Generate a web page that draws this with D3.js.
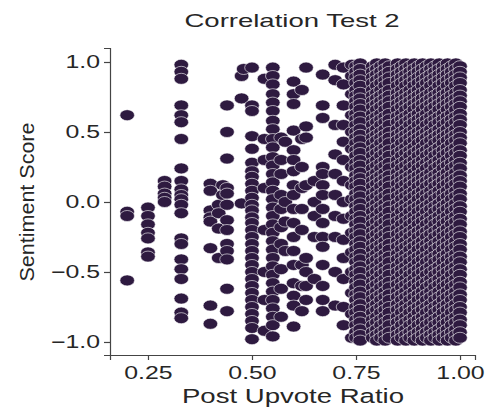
<!DOCTYPE html>
<meta charset="utf-8">
<script src="https://d3js.org/d3.v7.min.js"></script>
<style>
body { margin: 0; background: #fff; }
text { font-family: "Liberation Sans", Arial, sans-serif; fill: #262626; }
</style>
<body>
<div id="chart"></div>
<script>
// column y values
const denseA = [0.99,0.95,0.91,0.87,0.83,0.78,0.74,0.7,0.66,0.61,0.57,0.52,0.48,0.44,0.39,0.35,0.3,0.26,0.21,0.17,0.13,0.08,0.04,-0.01,-0.05,-0.1,-0.14,-0.19,-0.23,-0.28,-0.32,-0.37,-0.41,-0.46,-0.5,-0.55,-0.59,-0.64,-0.68,-0.73,-0.77,-0.82,-0.86,-0.91,-0.95,-0.99];
const denseB = [0.97,0.93,0.89,0.85,0.8,0.76,0.72,0.68,0.63,0.59,0.55,0.5,0.46,0.42,0.37,0.33,0.28,0.24,0.19,0.15,0.11,0.06,0.02,-0.03,-0.07,-0.12,-0.16,-0.21,-0.25,-0.3,-0.34,-0.39,-0.43,-0.48,-0.52,-0.57,-0.61,-0.66,-0.7,-0.75,-0.79,-0.84,-0.88,-0.93,-0.97];
const col50 = [0.96,0.69,0.65,0.47,0.38,0.28,0.22,0.18,0.13,0.08,0.03,-0.02,-0.06,-0.11,-0.15,-0.2,-0.25,-0.3,-0.35,-0.4,-0.45,-0.5,-0.55,-0.6,-0.65,-0.7,-0.75,-0.8,-0.85,-0.9,-0.98];
const col55 = [0.96,0.9,0.84,0.77,0.71,0.65,0.58,0.52,0.45,0.39,0.32,0.26,0.2,0.14,0.08,0.02,-0.04,-0.1,-0.16,-0.22,-0.28,-0.34,-0.4,-0.46,-0.52,-0.58,-0.64,-0.7,-0.76,-0.82,-0.88,-0.96];
const columns = [
  [0.20, [0.62,-0.07,-0.1,-0.56]],
  [0.25, [-0.04,-0.1,-0.16,-0.22,-0.26,-0.36,-0.39]],
  [0.29, [0.15,0.11,0.06,0.03,0.0]],
  [0.33, [0.98,0.93,0.88,0.69,0.62,0.57,0.45,0.24,0.15,0.09,0.05,0.02,-0.02,-0.08,-0.26,-0.3,-0.41,-0.48,-0.55,-0.69,-0.79,-0.83]],
  [0.40, [0.13,0.08,-0.06,-0.11,-0.14,-0.33,-0.74,-0.87]],
  [0.42, [-0.02,-0.08,-0.19,-0.4]],
  [0.43, [0.12,0.05]],
  [0.44, [0.69,0.5,0.31,0.1,0.06,-0.02,-0.13,-0.2,-0.3,-0.35,-0.41,-0.62,-0.78]],
  [0.475, [0.9,0.74,-0.01]],
  [0.48, [0.95]],
  [0.50, col50],
  [0.53, [0.88,0.45,0.3,0.1,-0.2,-0.5,-0.7,-0.92]],
  [0.55, col55],
  [0.57, [0.46,0.3,0.2,0.05,-0.05,-0.18,-0.3,-0.48,-0.62,-0.82]],
  [0.58, [0.43,0.0,-0.14,-0.35]],
  [0.60, [0.86,0.77,0.7,0.51,0.37,0.3,0.22,0.12,0.05,-0.05,-0.15,-0.25,-0.35,-0.45,-0.58,-0.67,-0.74,-0.89]],
  [0.62, [0.8,0.45,0.25,0.1,-0.05,-0.2,-0.45,-0.6,-0.78]],
  [0.63, [0.96,0.54,0.46,0.12,-0.4,-0.5,-0.6,-0.7]],
  [0.65, [0.15,0.0,-0.1,-0.25,-0.55]],
  [0.67, [0.91,0.69,0.6,0.25,0.2,0.12,0.05,-0.05,-0.15,-0.25,-0.32,-0.45,-0.6,-0.7,-0.78]],
  [0.70, [0.98,0.87,0.55,0.34,0.2,0.05,-0.1,-0.25,-0.5,-0.74]],
  [0.72, [0.96,0.84,0.69,0.55,0.43,0.3,0.15,0.0,-0.12,-0.27,-0.4,-0.55,-0.75,-0.88]],
  [0.74, [0.98,0.9,0.77,0.62,0.5,0.38,0.25,0.12,0.02,-0.1,-0.22,-0.36,-0.5,-0.65,-0.8,-0.97]],
  [0.75, denseB], [0.76, denseA], [0.79, denseB], [0.80, denseA],
  [0.81, denseB], [0.82, denseA], [0.83, denseB], [0.85, denseA],
  [0.86, denseB], [0.87, denseA], [0.88, denseB], [0.89, denseA],
  [0.90, denseB], [0.91, denseA], [0.92, denseB], [0.93, denseA],
  [0.94, denseB], [0.95, denseA], [0.96, denseB], [0.97, denseA],
  [0.98, denseB], [0.99, denseA], [1.00, denseB]
];
const xTicks = [0.25, 0.5, 0.75, 1.0];
const yTicks = [-1.0, -0.5, 0.0, 0.5, 1.0];

const points = columns.flatMap(([x, ys]) => ys.map(y => ({x, y})));

const W = 491, H = 407;
const margin = {left: 110, top: 48, right: 16, bottom: 52};
const svg = d3.select("#chart").append("svg").attr("width", W).attr("height", H);

const x = d3.scaleLinear().domain([0.1587, 1.036]).range([margin.left, W - margin.right]);
const y = d3.scaleLinear().domain([-1.093, 1.1]).range([H - margin.bottom, margin.top]);

svg.append("g").selectAll("ellipse").data(points).join("ellipse")
  .attr("cx", d => x(d.x)).attr("cy", d => y(d.y))
  .attr("rx", 7.3).attr("ry", 5.5)
  .attr("fill", "#2e1a40").attr("stroke", "#fff").attr("stroke-width", 0.6);

// the picture is stretched sideways, so the text is too
const sx = 1.38;
const xAxis = svg.append("g").attr("transform", `translate(0,${H - margin.bottom})`)
  .call(d3.axisBottom(x).tickValues(xTicks).tickFormat(d3.format(".2f")).tickSizeOuter(0).tickSize(5));
const yAxis = svg.append("g").attr("transform", `translate(${margin.left},0)`)
  .call(d3.axisLeft(y).tickValues(yTicks).tickFormat(d => d3.format(".1f")(d).replace("-", "\u2212")).tickSizeOuter(0).tickSize(6));
[xAxis, yAxis].forEach(a => {
  a.selectAll("path, line").attr("stroke", "#444").attr("stroke-width", 1.2);
  a.selectAll("text").attr("font-size", 18).attr("fill", "#262626");
});
xAxis.selectAll("text").attr("y", 24).attr("dy", 0).attr("transform", `scale(${sx},1)`);
yAxis.selectAll("text").attr("x", -10 / sx).attr("transform", `scale(${sx},1)`);

svg.append("text").attr("x", 292).attr("y", 27).attr("text-anchor", "middle")
  .attr("font-size", 18.5).attr("textLength", 215).attr("lengthAdjust", "spacingAndGlyphs")
  .text("Correlation Test 2");
svg.append("text").attr("x", 293).attr("y", 403).attr("text-anchor", "middle")
  .attr("font-size", 20.5).attr("textLength", 222).attr("lengthAdjust", "spacingAndGlyphs")
  .text("Post Upvote Ratio");
svg.append("text").attr("transform", "translate(34,202) rotate(-90)").attr("text-anchor", "middle")
  .attr("font-size", 21).attr("textLength", 159).attr("lengthAdjust", "spacingAndGlyphs")
  .text("Sentiment Score");
</script>
</body>
